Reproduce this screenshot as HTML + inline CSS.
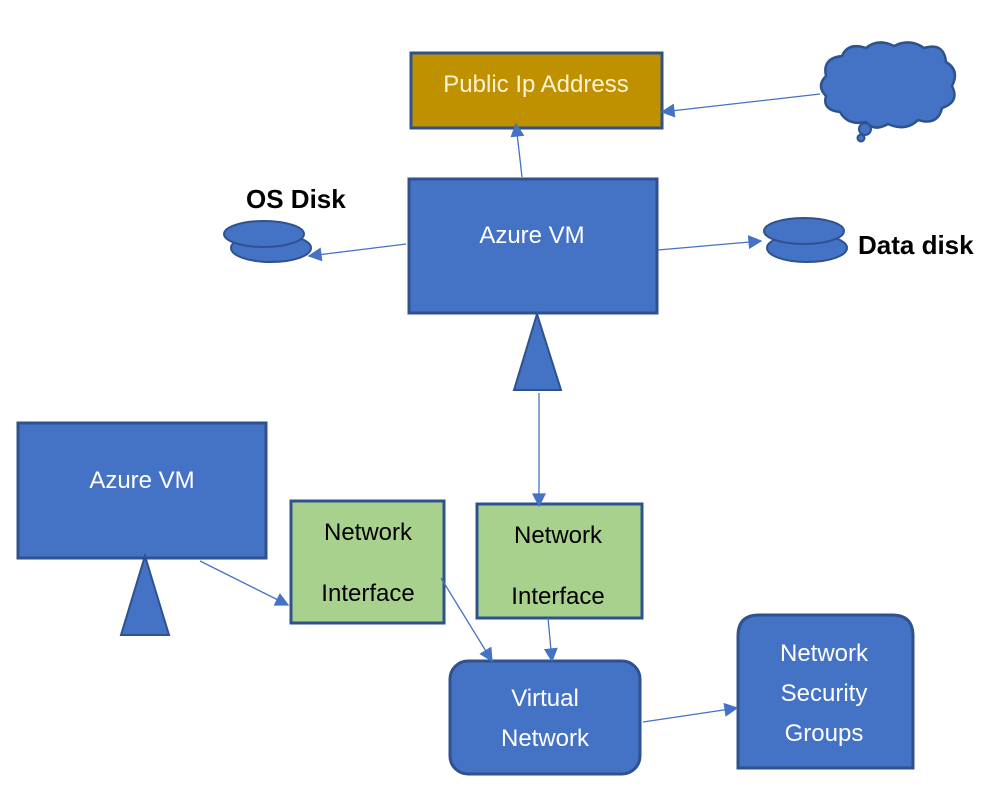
<!DOCTYPE html>
<html><head><meta charset="utf-8"><style>
html,body{margin:0;padding:0;background:#fff;}
svg{display:block;}
text{font-family:"Liberation Sans",sans-serif;}
</style></head><body>
<svg width="1006" height="792" viewBox="0 0 1006 792" xmlns="http://www.w3.org/2000/svg">
<defs>
<marker id="b" viewBox="0 0 10 10" refX="9" refY="5" markerWidth="16" markerHeight="14" orient="auto" markerUnits="userSpaceOnUse">
<path d="M0,0 L10,5 L0,10 z" fill="#4472C4"/>
</marker>
</defs>
<g stroke="#2F528F" stroke-width="3">
<rect x="411" y="53" width="251" height="75" fill="#BF9000"/>
<rect x="409" y="179" width="248" height="134" fill="#4472C4"/>
<rect x="18" y="423" width="248" height="135" fill="#4472C4"/>
<rect x="291" y="501" width="153" height="122" fill="#A9D18E"/>
<rect x="477" y="504" width="165" height="114" fill="#A9D18E"/>
<rect x="450" y="661" width="190" height="113" rx="18" fill="#4472C4"/>
<path d="M738,768 L738,636 Q738,615 759,615 L892,615 Q913,615 913,636 L913,768 Z" fill="#4472C4"/>
<path d="M537,314 L561,390 L514,390 Z" fill="#4472C4" stroke-width="2"/>
<path d="M145,556 L169,635 L121,635 Z" fill="#4472C4" stroke-width="2"/>
<ellipse cx="271" cy="248" rx="40" ry="14" fill="#4472C4" stroke-width="2"/>
<ellipse cx="264" cy="234" rx="40" ry="13" fill="#4472C4" stroke-width="2"/>
<ellipse cx="807" cy="248" rx="40" ry="14" fill="#4472C4" stroke-width="2"/>
<ellipse cx="804" cy="231" rx="40" ry="13" fill="#4472C4" stroke-width="2"/>
<path d="M826,76 Q822,58 842,56 Q848,42 866,48 Q878,38 894,46 Q910,38 924,48 Q944,42 946,62 Q960,70 952,86 Q960,102 942,108 Q938,126 918,120 Q906,132 888,124 Q874,132 866,122 Q848,126 840,112 Q822,110 826,96 Q816,86 826,76 Z" fill="#4472C4" stroke-width="2.5"/>
<circle cx="865" cy="129" r="6" fill="#4472C4" stroke-width="2"/>
<circle cx="861" cy="138" r="3.5" fill="#4472C4" stroke-width="2"/>
</g>
<g stroke="#4472C4" stroke-width="1.3" fill="none">
<line x1="522" y1="177" x2="516" y2="124" marker-end="url(#b)"/>
<line x1="820" y1="94" x2="662" y2="112" marker-end="url(#b)"/>
<line x1="406" y1="244" x2="309" y2="256" marker-end="url(#b)"/>
<line x1="658" y1="250" x2="761" y2="241" marker-end="url(#b)"/>
<line x1="539" y1="393" x2="539" y2="506" marker-end="url(#b)"/>
<line x1="200" y1="561" x2="288" y2="605" marker-end="url(#b)"/>
<line x1="441" y1="578" x2="492" y2="661" marker-end="url(#b)"/>
<line x1="548" y1="618" x2="552" y2="661" marker-end="url(#b)"/>
<line x1="643" y1="722" x2="737" y2="708" marker-end="url(#b)"/>
</g>
<g font-size="24" text-anchor="middle" fill="#fff">
<text x="536" y="92" fill="#FFF2CC">Public Ip Address</text>
<text x="532" y="243">Azure VM</text>
<text x="142" y="488">Azure VM</text>
<text x="545" y="706">Virtual</text>
<text x="545" y="746">Network</text>
<text x="824" y="661">Network</text>
<text x="824" y="701">Security</text>
<text x="824" y="741">Groups</text>
<text x="368" y="540" fill="#000">Network</text>
<text x="368" y="601" fill="#000">Interface</text>
<text x="558" y="543" fill="#000">Network</text>
<text x="558" y="604" fill="#000">Interface</text>
</g>
<text x="246" y="208" font-size="26" font-weight="bold" fill="#000">OS Disk</text>
<text x="858" y="254" font-size="26" font-weight="bold" fill="#000">Data disk</text>
</svg>
</body></html>
